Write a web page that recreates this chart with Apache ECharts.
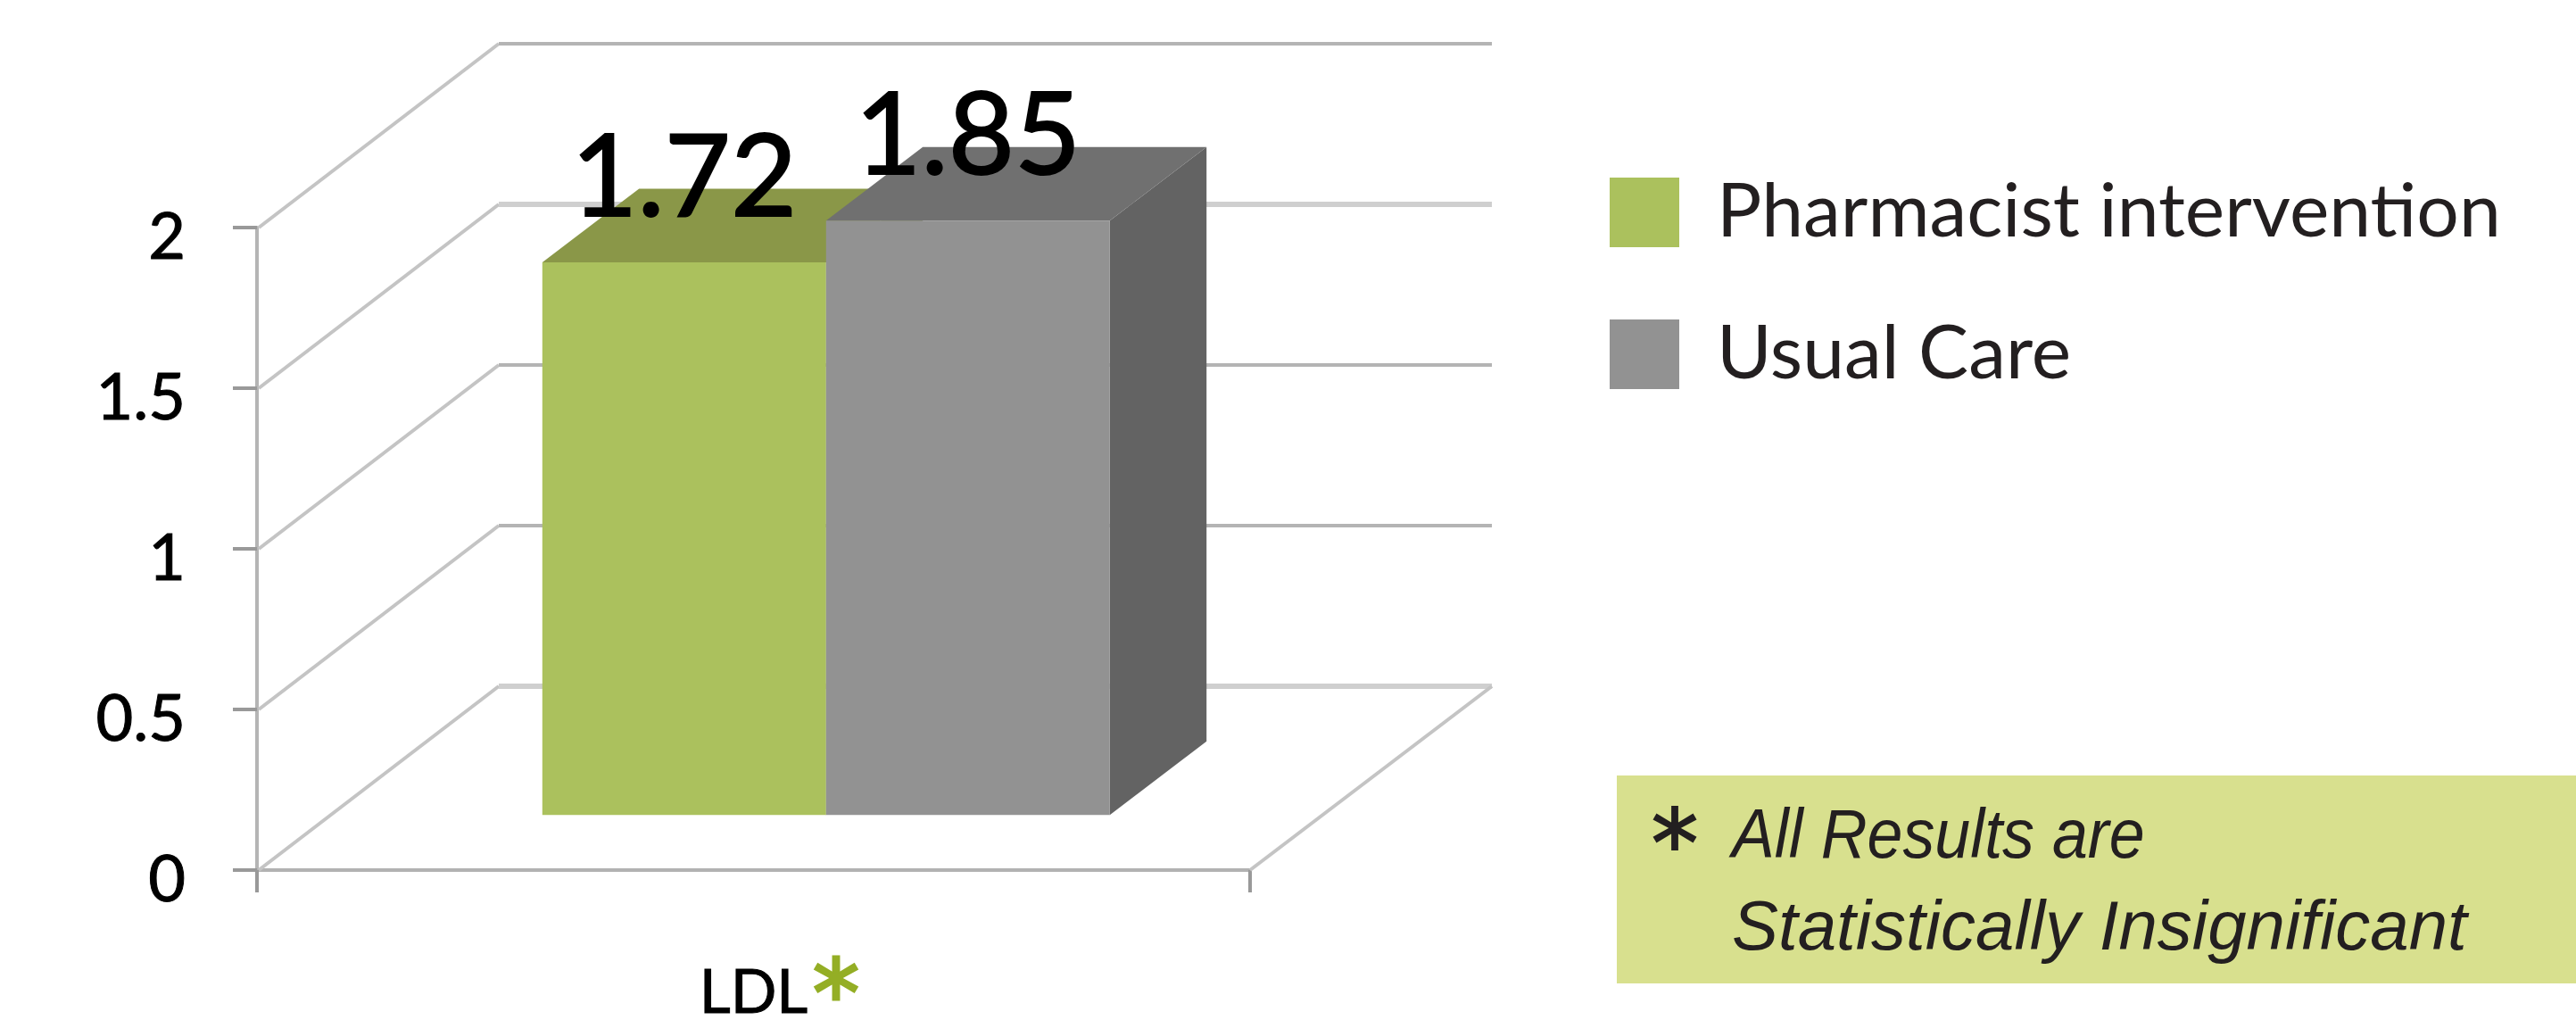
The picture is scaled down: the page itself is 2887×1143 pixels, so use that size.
<!DOCTYPE html>
<html>
<head>
<meta charset="utf-8">
<title>LDL chart</title>
<style>html,body{margin:0;padding:0;background:#fff}#c{width:2887px;height:1143px}</style>
<script src="https://cdn.jsdelivr.net/npm/echarts@6/dist/echarts.min.js"></script>
</head>
<body>
<div id="c"></div>
<script>
var categories = ['LDL'];
var seriesNames = ['Pharmacist intervention', 'Usual Care'];
var pharmacistValues = [1.72];
var usualCareValues = [1.85];
var yTicks = [0, 0.5, 1, 1.5, 2];
var noteLines = ['All Results are', 'Statistically Insignificant'];

var DEPTH_X = 271, DEPTH_Y = 206;      // oblique projection of the chart floor
var GAP_F = 0.30, BAR_F = 0.40;        // bar position inside the depth
var BAR_RATIO = 1 / 3.5;               // two bars + 150% gap

function pts(a) { return { points: a }; }

function wallItem(params, api) {
  var cs = params.coordSys;
  var v = api.value(0);
  var y = api.coord([0, v])[1];
  var x0 = cs.x, x1 = cs.x + cs.width;
  var light = (v === 1.5 || v === 0);
  var children = [
    { type: 'line', shape: { x1: x0 + 2, y1: y, x2: x0 + DEPTH_X, y2: y - DEPTH_Y },
      style: { stroke: '#c4c4c4', lineWidth: 4 } },
    { type: 'line', shape: { x1: x0 + DEPTH_X, y1: y - DEPTH_Y, x2: x1 + DEPTH_X, y2: y - DEPTH_Y },
      style: { stroke: light ? '#cfcfcf' : '#b4b4b4', lineWidth: light ? 6 : 4 } }
  ];
  if (v === 0) {
    children.push({ type: 'line', shape: { x1: x1, y1: y, x2: x1 + DEPTH_X, y2: y - DEPTH_Y },
      style: { stroke: '#c4c4c4', lineWidth: 4 } });
  }
  return { type: 'group', children: children };
}

function barItem(seriesIndex, front, top, side) {
  return function (params, api) {
    var unit = api.size([1, 0])[0];
    var w = unit * BAR_RATIO;
    var insetX = DEPTH_X * GAP_F, insetY = DEPTH_Y * GAP_F;
    var dx = DEPTH_X * BAR_F, dy = DEPTH_Y * BAR_F;
    var cat = api.value(0), val = api.value(1);
    var centre = api.coord([cat, 0]);
    var yTop = api.coord([cat, val])[1] - insetY;
    var yBot = centre[1] - insetY;
    var xL = centre[0] + insetX + (seriesIndex - 1) * w;
    var xR = xL + w;
    return { type: 'group', children: [
      { type: 'polygon', shape: pts([[xR, yTop], [xR + dx, yTop - dy], [xR + dx, yBot - dy], [xR, yBot]]), style: { fill: side } },
      { type: 'polygon', shape: pts([[xL, yTop], [xR, yTop], [xR + dx, yTop - dy], [xL + dx, yTop - dy]]), style: { fill: top } },
      { type: 'rect', shape: { x: xL, y: yTop, width: w, height: yBot - yTop }, style: { fill: front } },
      { type: 'text', z2: 10, style: { text: val.toFixed(2), x: (xL + xR) / 2, y: yTop - dy - 11,
        align: 'center', verticalAlign: 'middle', font: '128px Lato', fill: '#000', stroke: '#000', lineWidth: 2 } }
    ] };
  };
}

var chart = echarts.init(document.getElementById('c'), null, { renderer: 'canvas' });
chart.setOption({
  animation: false,
  backgroundColor: '#ffffff',
  color: ['#ABC15D', '#929292'],
  grid: { left: 288, right: 2887 - 1401, top: 255, bottom: 1143 - 975, outerBoundsMode: 'none' },
  legend: {
    show: true, orient: 'vertical', left: 1804, top: 196, padding: 0,
    itemWidth: 78, itemHeight: 78, itemGap: 75, icon: 'rect',
    data: seriesNames,
    textStyle: { fontFamily: 'Lato', fontSize: 84, color: '#231f20', padding: [0, 0, 0, 37] }
  },
  xAxis: {
    type: 'category', data: categories,
    axisLine: { lineStyle: { color: '#b2b2b2', width: 4 } },
    axisTick: { show: true, length: 25, lineStyle: { color: '#999999', width: 4 } },
    axisLabel: { margin: 104, fontFamily: 'Lato', fontSize: 68, color: '#000',
      textBorderColor: '#000', textBorderWidth: 1 }
  },
  yAxis: {
    type: 'value', min: 0, max: 2, interval: 0.5,
    splitLine: { show: false },
    axisLine: { show: true, lineStyle: { color: '#b5b5b5', width: 4 } },
    axisTick: { show: true, length: 27, lineStyle: { color: '#999999', width: 4 } },
    axisLabel: { margin: 80, fontFamily: 'Lato', fontSize: 72, color: '#000', verticalAlign: 'top', lineHeight: 24,
      textBorderColor: '#000', textBorderWidth: 1,
      formatter: function (v) { return String(v); } }
  },
  series: [
    { type: 'custom', name: '_walls', silent: true, z: 1, coordinateSystem: 'cartesian2d',
      renderItem: wallItem, data: yTicks.map(function (t) { return [t]; }), encode: { y: 0 } },
    { type: 'custom', name: seriesNames[0], z: 2, coordinateSystem: 'cartesian2d',
      itemStyle: { color: '#ABC15D' },
      renderItem: barItem(0, '#ABC15D', '#8A9748', '#7f8c44'),
      data: pharmacistValues.map(function (v, i) { return [i, v]; }) },
    { type: 'custom', name: seriesNames[1], z: 2, coordinateSystem: 'cartesian2d',
      itemStyle: { color: '#929292' },
      renderItem: barItem(1, '#929292', '#707070', '#636363'),
      data: usualCareValues.map(function (v, i) { return [i, v]; }) }
  ],
  graphic: [
    { type: 'rect', z: 0, shape: { x: 1812, y: 869, width: 1075, height: 233 }, style: { fill: '#D8E08E' } },
    { type: 'text', z: 5, style: { text: '*', x: 1877, y: 955, align: 'center', verticalAlign: 'middle',
      font: '105px "DejaVu Sans"', fill: '#231f20', stroke: '#231f20', lineWidth: 2 } },
    { type: 'text', z: 5, x: 1941, scaleX: 0.92, style: { text: noteLines[0], x: 0, y: 939, verticalAlign: 'middle',
      font: 'italic 78px "Liberation Sans"', fill: '#231f20' } },
    { type: 'text', z: 5, style: { text: noteLines[1], x: 1941, y: 1042, verticalAlign: 'middle',
      font: 'italic 78px "Liberation Sans"', fill: '#231f20' } },
    { type: 'text', z: 5, style: { text: '*', x: 937, y: 1123, align: 'center', verticalAlign: 'middle',
      font: '105px "DejaVu Sans"', fill: '#94AE25', stroke: '#94AE25', lineWidth: 3 } }
  ]
});
</script>
</body>
</html>
